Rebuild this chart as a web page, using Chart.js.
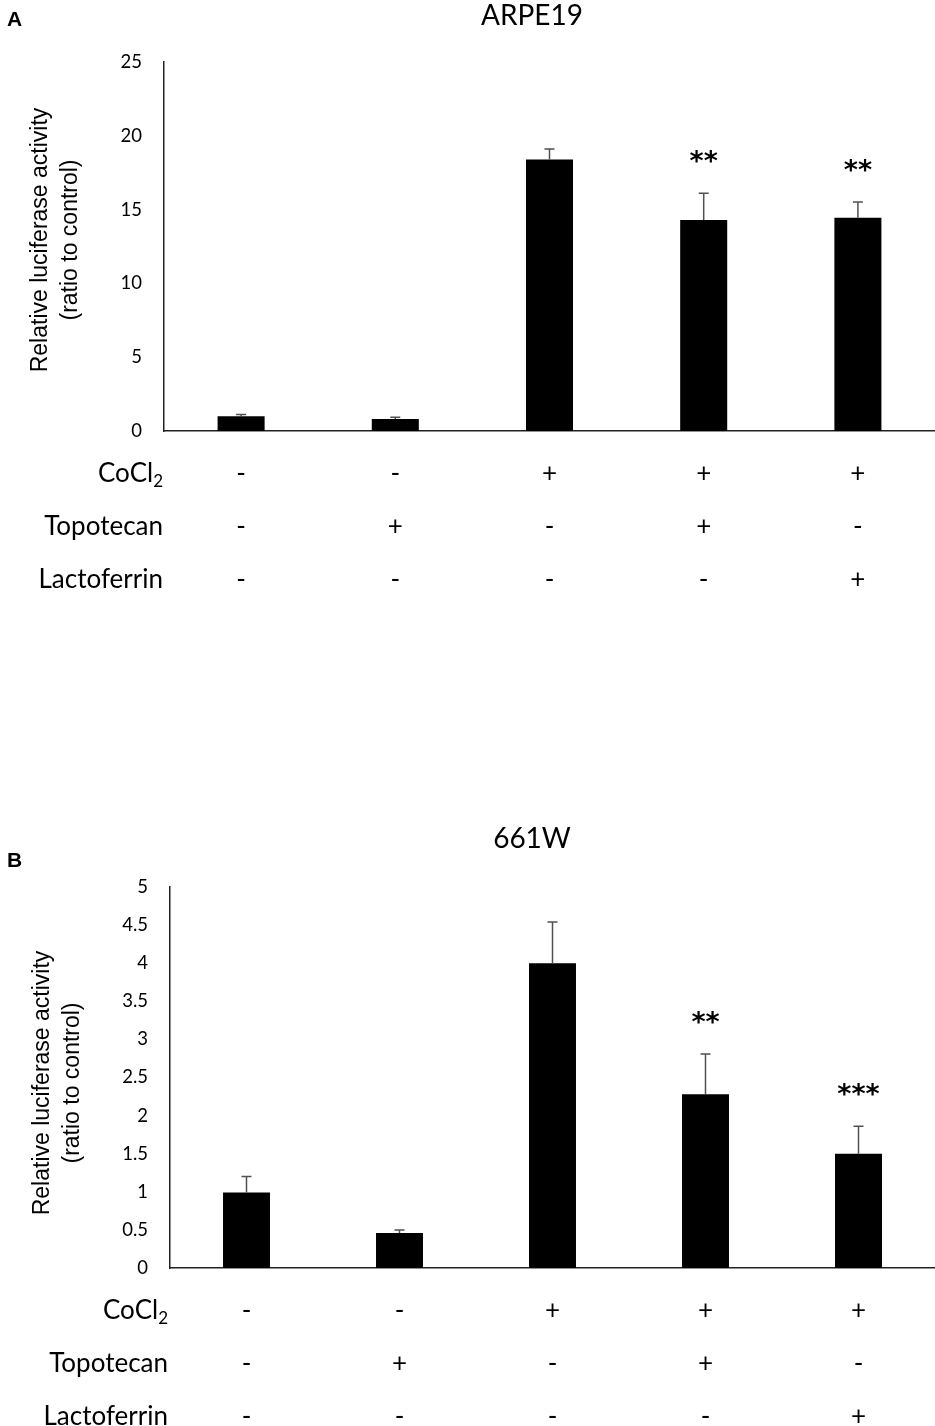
<!DOCTYPE html>
<html><head><meta charset="utf-8">
<script src="https://cdn.jsdelivr.net/npm/chart.js@4.4.1/dist/chart.umd.min.js"></script>
<style>
html,body{margin:0;padding:0;background:#fff;}
body{width:935px;height:1426px;position:relative;overflow:hidden;}
.box{position:absolute;left:0;width:935px;}
</style></head><body>
<div class="box" style="top:0;height:640px"><canvas id="cA"></canvas></div>
<div class="box" style="top:800px;height:626px"><canvas id="cB"></canvas></div>
<script>
// ---- data ----
const conditions = ['1', '2', '3', '4', '5'];
const rowLabels = ['CoCl', 'Topotecan', 'Lactoferrin'];
const cocl2 = ['-', '-', '+', '+', '+'];
const topotecan = ['-', '+', '-', '+', '-'];
const lactoferrin = ['-', '-', '-', '-', '+'];

const arpeTitle = 'ARPE19';
const arpeValues = [1.0, 0.81, 18.4, 14.3, 14.45];
const arpeErrors = [0.12, 0.12, 0.7, 1.8, 1.07];
const arpeSig = ['', '', '', '**', '**'];
const arpeTickLabels = ['0', '5', '10', '15', '20', '25'];

const w661Title = '661W';
const w661Values = [0.99, 0.46, 4.0, 2.28, 1.5];
const w661Errors = [0.21, 0.04, 0.54, 0.53, 0.36];
const w661Sig = ['', '', '', '**', '***'];
const w661TickLabels = ['0', '0.5', '1', '1.5', '2', '2.5', '3', '3.5', '4', '4.5', '5'];

const yTitle = ['Relative luciferase activity', '(ratio to control)'];

function makeDecor(cfg) {
  return {
    id: 'decor',
    afterDatasetsDraw(chart) {
      const ctx = chart.ctx, xs = chart.scales.x, ys = chart.scales.y, ca = chart.chartArea;
      ctx.save();
      // error bars + significance
      cfg.values.forEach((v, i) => {
        const cx = xs.getPixelForValue(i);
        const yTop = ys.getPixelForValue(v);
        const yErr = ys.getPixelForValue(v + cfg.errors[i]);
        ctx.strokeStyle = '#505050'; ctx.lineWidth = 1.5;
        ctx.beginPath();
        ctx.moveTo(cx, yTop); ctx.lineTo(cx, yErr);
        ctx.moveTo(cx - 5, yErr); ctx.lineTo(cx + 5, yErr);
        ctx.stroke();
        if (cfg.sig[i]) {
          ctx.font = 'bold 27px "DejaVu Sans"';
          ctx.fillStyle = '#000'; ctx.textAlign = 'center'; ctx.textBaseline = 'alphabetic';
          ctx.fillText(cfg.sig[i], cx, yErr - 38 + 15);
        }
      });
      // table
      const rows = [cocl2, topotecan, lactoferrin];
      const offs = [51, 104, 157];
      ctx.fillStyle = '#000'; ctx.textBaseline = 'alphabetic';
      rows.forEach((r, ri) => {
        const by = ca.bottom + offs[ri];
        ctx.font = '26px Lato';
        ctx.textAlign = 'center';
        r.forEach((s, i) => ctx.fillText(s, xs.getPixelForValue(i), by));
        const right = ca.left - cfg.labelGap;
        if (ri === 0) {
          ctx.font = '17px Lato';
          const sw = ctx.measureText('2').width;
          ctx.textAlign = 'left';
          ctx.fillText('2', right - sw, by + 5);
          ctx.font = '26px Lato';
          ctx.textAlign = 'right';
          ctx.fillText(rowLabels[0], right - sw, by);
        } else {
          ctx.textAlign = 'right';
          ctx.fillText(rowLabels[ri], right, by);
        }
      });
      // chart title
      ctx.font = '28px Lato'; ctx.textAlign = 'center';
      ctx.fillText(cfg.title, 532, cfg.titleBase);
      // panel letter
      ctx.font = 'bold 21px "Liberation Sans"'; ctx.textAlign = 'left';
      ctx.fillText(cfg.panel, 7, cfg.panelBase);
      // y axis title
      ctx.save();
      ctx.translate(0, cfg.yTitleCenter);
      ctx.rotate(-Math.PI / 2);
      ctx.font = '23px "Liberation Sans"'; ctx.textAlign = 'center';
      ctx.fillText(yTitle[0], 0, cfg.yTitleX[0]);
      ctx.fillText(yTitle[1], 0, cfg.yTitleX[1]);
      ctx.restore();
      ctx.restore();
    }
  };
}

function makeChart(id, values, tickLabels, max, step, padTop, padBottom, axisWidth, barPct, decorCfg) {
  return new Chart(document.getElementById(id), {
    type: 'bar',
    data: { labels: conditions, datasets: [{ data: values, backgroundColor: '#000', borderWidth: 0, barPercentage: barPct, categoryPercentage: 1 }] },
    options: {
      responsive: true, maintainAspectRatio: false, animation: false,
      layout: { padding: { top: padTop, bottom: padBottom, left: 0, right: 0 } },
      plugins: { legend: { display: false }, tooltip: { enabled: false } },
      scales: {
        x: {
          grid: { display: false, drawTicks: false },
          ticks: { display: false },
          border: { display: true, color: '#222', width: 1.5 },
          afterFit(s) { s.height = 0; }
        },
        y: {
          min: 0, max: max,
          ticks: { stepSize: step, padding: 22, color: '#000', font: { family: 'Lato, sans-serif', size: 18.5 },
            callback: (v, i) => tickLabels[i] },
          grid: { display: false, drawTicks: false },
          border: { display: true, color: '#222', width: 1.5 },
          afterFit(s) { s.width = axisWidth; }
        }
      }
    },
    plugins: [makeDecor(decorCfg)]
  });
}

makeChart('cA', arpeValues, arpeTickLabels, 25, 5, 62, 209, 164, 0.305, {
  values: arpeValues, errors: arpeErrors, sig: arpeSig, title: arpeTitle, titleBase: 25,
  panel: 'A', panelBase: 26, yTitleCenter: 240, yTitleX: [47, 77], labelGap: 1
});
makeChart('cB', w661Values, w661TickLabels, 5, 0.5, 87, 158, 170, 0.307, {
  values: w661Values, errors: w661Errors, sig: w661Sig, title: w661Title, titleBase: 48,
  panel: 'B', panelBase: 67, yTitleCenter: 283, yTitleX: [49, 79], labelGap: 2
});
</script>
</body></html>
